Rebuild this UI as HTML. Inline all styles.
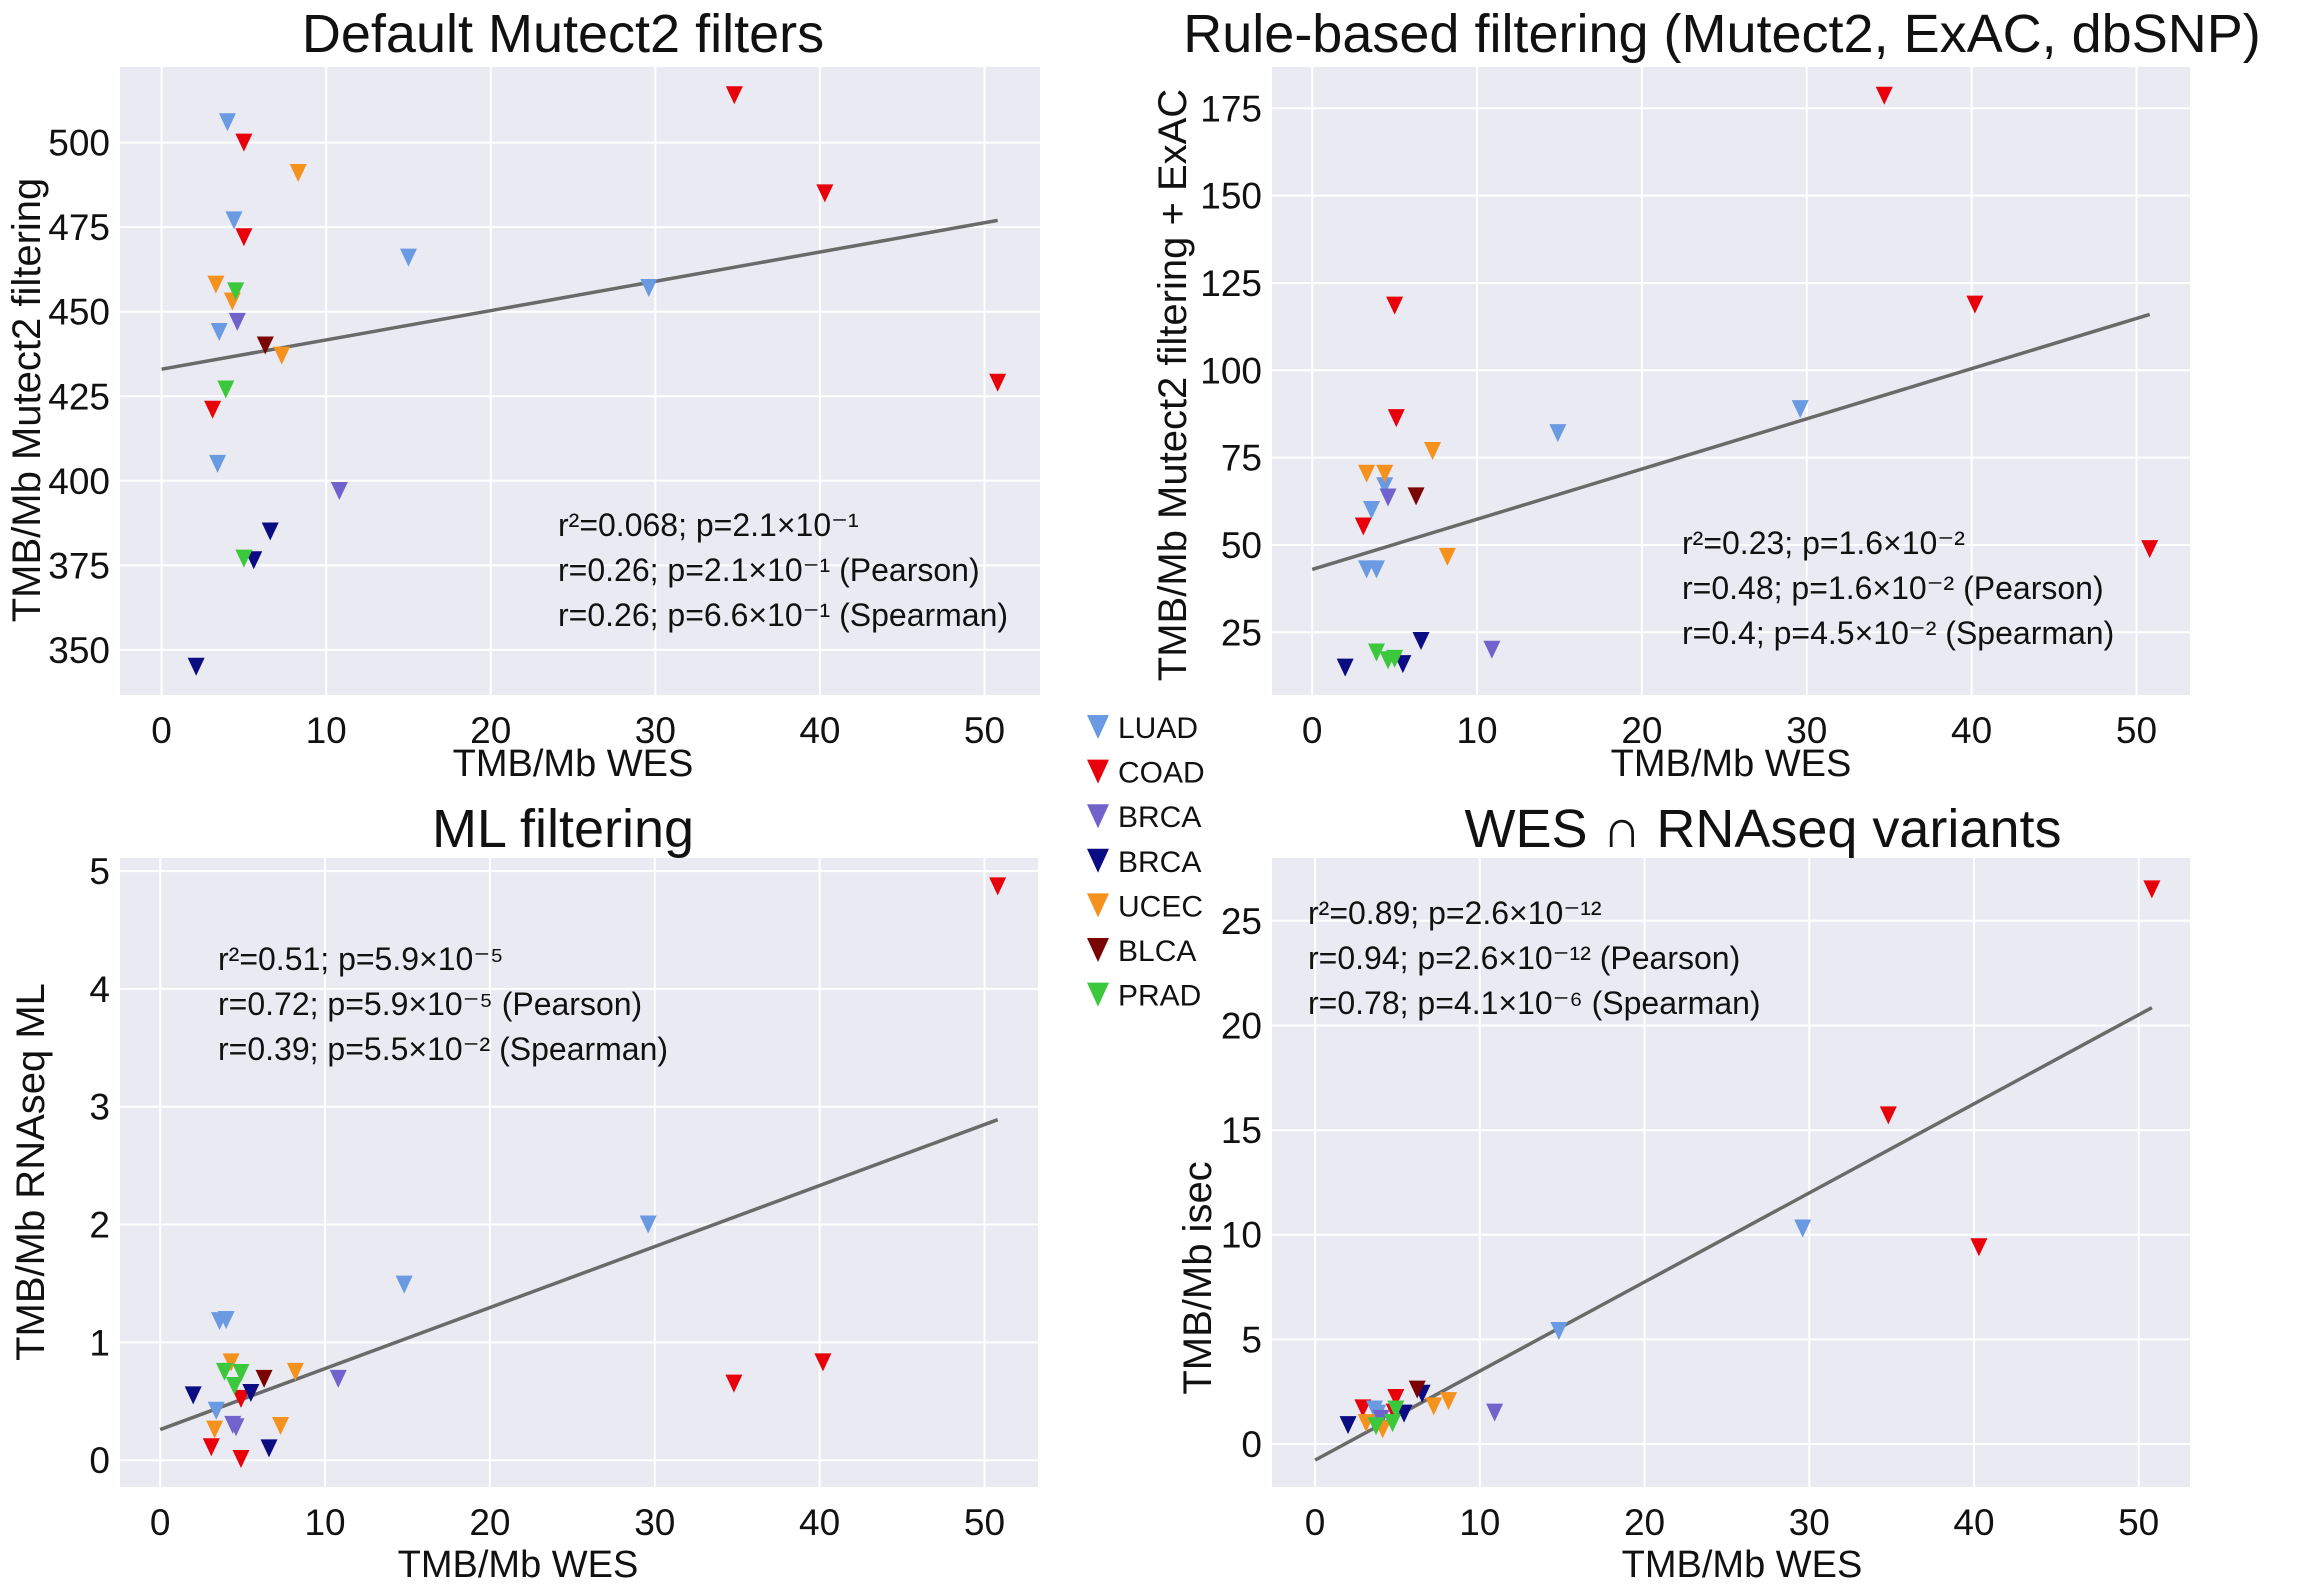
<!DOCTYPE html>
<html><head><meta charset="utf-8"><style>
html,body{margin:0;padding:0;background:#fff;}
svg text{font-family:"Liberation Sans",sans-serif;fill:#111;}
</style></head><body>
<svg id="fig" width="2304" height="1585" viewBox="0 0 2304 1585" xmlns="http://www.w3.org/2000/svg"></svg>
<script>
const classes=["LUAD","COAD","BRCA","BRCA","UCEC","BLCA","PRAD"];
const colors=["#6a9be2","#e8000b","#7064cc","#0b0b82","#f5921e","#7a0404","#3cc83c"];
// panel 1: Default Mutect2
const p1Cls=[0,0,0,0,0,0,1,1,1,1,1,1,2,2,3,3,3,4,4,4,4,5,6,6,6];
const p1X=[4.0,4.4,15.0,29.6,3.5,3.4,34.8,5.0,40.3,5.0,3.1,50.8,4.6,10.8,6.6,5.6,2.1,8.3,3.3,4.3,7.3,6.3,4.5,3.9,5.0];
const p1Y=[506,477,466,457,444,405,514,500,485,472,421,429,447,397,385,376.5,345,491,458,453,437,440,456,427,377];
const p1Fit=[433,477];
// panel 2: rule-based
const p2Cls=[1,1,1,1,1,1,0,0,0,0,0,0,4,4,4,4,2,2,5,3,3,3,6,6,6];
const p2X=[34.7,5.0,40.2,5.1,3.1,50.8,29.6,14.9,4.4,3.6,3.3,3.9,7.3,3.3,4.4,8.2,4.6,10.9,6.3,2.0,6.6,5.5,3.9,4.6,5.0];
const p2Y=[178.6,118.5,118.8,86.3,55.3,48.8,88.9,82,66.8,60,43,43,76.9,70.4,70.4,46.6,63.6,20,63.9,14.9,22.5,15.9,19.2,17,17.4];
const p2Fit=[43,116];
// panel 3: ML
const p3Cls=[1,1,1,1,1,1,0,0,0,0,0,2,2,2,3,3,3,4,4,4,4,5,6,6,6];
const p3X=[50.8,34.8,40.2,4.9,3.1,4.9,29.6,14.8,3.6,4.0,3.4,10.8,4.4,4.6,2.0,5.5,6.6,4.3,8.2,3.3,7.3,6.3,3.9,4.9,4.5];
const p3Y=[4.87,0.65,0.83,0.52,0.11,0.01,2.0,1.49,1.18,1.19,0.42,0.69,0.30,0.28,0.55,0.57,0.10,0.83,0.75,0.26,0.29,0.69,0.75,0.74,0.63];
const p3Fit=[0.26,2.89];
// panel 4: WES ∩ RNAseq
const p4Cls=[1,1,1,1,1,1,0,0,0,0,2,2,3,3,3,5,4,4,4,4,6,6,6];
const p4X=[50.8,34.8,40.3,4.9,2.9,4.8,29.6,14.8,3.6,3.8,10.9,4.0,2.0,6.5,5.4,6.2,8.1,7.2,3.1,4.1,3.7,4.7,4.9];
const p4Y=[26.5,15.7,9.4,2.2,1.7,1.5,10.3,5.4,1.65,1.45,1.5,1.2,0.9,2.4,1.45,2.6,2.05,1.8,1.0,0.7,0.85,1.0,1.65];
const p4Fit=[-0.77,20.85];
const xTicks=[0,10,20,30,40,50];
const p1YTicks=[350,375,400,425,450,475,500];
const p2YTicks=[25,50,75,100,125,150,175];
const p3YTicks=[0,1,2,3,4,5];
const p4YTicks=[0,5,10,15,20,25];

const NS="http://www.w3.org/2000/svg";
const svg=document.getElementById('fig');
function mk(tag,attrs,parent){const e=document.createElementNS(NS,tag);for(const k in attrs)e.setAttribute(k,attrs[k]);(parent||svg).appendChild(e);return e;}

const panels=[
 {name:"default-mutect2",title:"Default Mutect2 filters",tx:563,ty:52,box:[120,67,1040,695],x0:161.6,x50:984.5,yv:[350,500],yp:[649.9,142.6],
  cls:p1Cls,xs:p1X,ys:p1Y,fit:p1Fit,yt:p1YTicks,ylab:"TMB/Mb Mutect2 filtering",ylx:26,yly:400,xlx:573,xly:776,
  ann:[558,536],ann3:["r²=0.068; p=2.1×10⁻¹","r=0.26; p=2.1×10⁻¹ (Pearson)","r=0.26; p=6.6×10⁻¹ (Spearman)"]},
 {name:"rule-based",title:"Rule-based filtering (Mutect2, ExAC, dbSNP)",tx:1722,ty:52,box:[1272,67,2190,695],x0:1312.2,x50:2136.5,yv:[25,175],yp:[632.3,108.3],
  cls:p2Cls,xs:p2X,ys:p2Y,fit:p2Fit,yt:p2YTicks,ylab:"TMB/Mb Mutect2 filtering + ExAC",ylx:1172,yly:385,xlx:1731,xly:776,
  ann:[1682,554],ann3:["r²=0.23; p=1.6×10⁻²","r=0.48; p=1.6×10⁻² (Pearson)","r=0.4; p=4.5×10⁻² (Spearman)"]},
 {name:"ml-filtering",title:"ML filtering",tx:563,ty:847,box:[120,858,1038,1487],x0:160.2,x50:984.5,yv:[0,5],yp:[1460.2,871.1],
  cls:p3Cls,xs:p3X,ys:p3Y,fit:p3Fit,yt:p3YTicks,ylab:"TMB/Mb RNAseq ML",ylx:30,yly:1172,xlx:518,xly:1577,
  ann:[218,970],ann3:["r²=0.51; p=5.9×10⁻⁵","r=0.72; p=5.9×10⁻⁵ (Pearson)","r=0.39; p=5.5×10⁻² (Spearman)"]},
 {name:"wes-rnaseq",title:"WES ∩ RNAseq variants",tx:1763,ty:847,box:[1272,858,2190,1487],x0:1315.1,x50:2138.7,yv:[0,25],yp:[1444,920.8],
  cls:p4Cls,xs:p4X,ys:p4Y,fit:p4Fit,yt:p4YTicks,ylab:"TMB/Mb isec",ylx:1197,yly:1278,xlx:1742,xly:1577,
  ann:[1308,924],ann3:["r²=0.89; p=2.6×10⁻¹²","r=0.94; p=2.6×10⁻¹² (Pearson)","r=0.78; p=4.1×10⁻⁶ (Spearman)"]}
];

function tri(g,cx,cy,col,w,h){
  return mk('polygon',{points:`${cx-w/2},${cy-h/2} ${cx+w/2},${cy-h/2} ${cx},${cy+h/2}`,fill:col},g);
}

panels.forEach(P=>{
  const g=mk('g',{});
  
  
  const sx=v=>P.x0+(v/50)*(P.x50-P.x0);
  const sy=v=>P.yp[0]+(v-P.yv[0])/(P.yv[1]-P.yv[0])*(P.yp[1]-P.yp[0]);
  const [l,t,r,b]=P.box;
  const bg=mk('rect',{x:l,y:t,width:r-l,height:b-t,fill:"#eaeaf2"},g);
  
  
  xTicks.forEach(v=>{
    const ln=mk('line',{x1:sx(v),x2:sx(v),y1:t,y2:b,stroke:"#fff","stroke-width":2},g);
    
    
    const tx=mk('text',{x:sx(v),y:b+48,"text-anchor":"middle","font-size":37},g);
    tx.textContent=v;
    
    
  });
  P.yt.forEach(v=>{
    const ln=mk('line',{x1:l,x2:r,y1:sy(v),y2:sy(v),stroke:"#fff","stroke-width":2},g);
    
    
    const tx=mk('text',{x:l-10,y:sy(v)+13,"text-anchor":"end","font-size":37},g);
    tx.textContent=v;
    
    
  });
  const fl=mk('line',{x1:sx(0),y1:sy(P.fit[0]),x2:sx(50.8),y2:sy(P.fit[1]),stroke:"#6a6a6a","stroke-width":3.5},g);
  
  
  P.xs.forEach((xv,i)=>{
    const m=tri(g,sx(xv),sy(P.ys[i]),colors[P.cls[i]],17,18);
    
    
  });
  const ti=mk('text',{x:P.tx,y:P.ty,"text-anchor":"middle","font-size":54},g);
  ti.textContent=P.title;
  
  
  const xl=mk('text',{x:P.xlx,y:P.xly,"text-anchor":"middle","font-size":38},g);
  xl.textContent="TMB/Mb WES";
  
  
  const yl=mk('text',{x:0,y:0,"text-anchor":"middle","font-size":40,transform:`translate(${P.ylx+14},${P.yly}) rotate(-90)`},g);
  yl.textContent=P.ylab;
  
  
  P.ann3.forEach((s,k)=>{
    const a=mk('text',{x:P.ann[0],y:P.ann[1]+k*45,"font-size":32},g);
    a.textContent=s;
    
    
  });
});

const lg=mk('g',{});


classes.forEach((c,i)=>{
  const y=727+i*44.6;
  const m=tri(lg,1098,y,colors[i],22,24);
  
  
  const t=mk('text',{x:1118,y:y+11,"font-size":30},lg);
  t.textContent=c;
  
  
});
</script>
</body></html>
